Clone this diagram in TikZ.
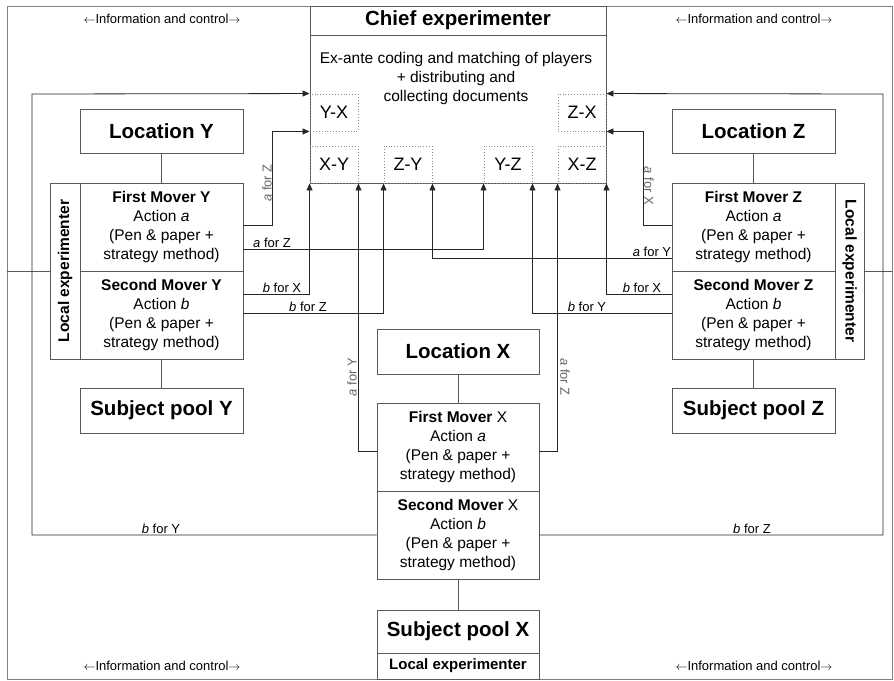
\documentclass[tikz,border=0pt]{standalone}
\usepackage{fontspec}
\setmainfont{Liberation Sans}
\usetikzlibrary{arrows.meta}

\newcommand{\infoline}{\(\leftarrow\)Information and control\(\rightarrow\)}

\begin{document}
\begin{tikzpicture}[x=1pt,y=-1pt,
	box/.style={draw=black!65, line width=0.9pt, inner sep=0pt, align=center, font=\fontsize{15.5}{19}\selectfont},
	bigbox/.style={box, font=\bfseries\fontsize{20.5}{24}\selectfont},
	codebox/.style={draw=black!45, dotted, line width=0.9pt, inner sep=0pt, minimum width=48pt, minimum height=37pt, font=\fontsize{18}{20}\selectfont},
	link/.style={draw=black!65, line width=0.9pt},
	flow/.style={draw=black!85, line width=0.8pt, -{Triangle[length=7pt,width=6pt]}},
	lab/.style={font=\fontsize{13}{15}\selectfont, inner sep=1pt},
	vlab/.style={lab, text=black!60},
	info/.style={font=\fontsize{13}{15}\selectfont}]
	\useasboundingbox (0,0) rectangle (894,680);
	\node[draw=black!50, line width=0.9pt, minimum width=885pt, minimum height=673pt] (frame) at (449.5,342.5) {};
	% chief experimenter
	\node[bigbox, minimum width=296pt, minimum height=29pt] (chief) at (458,20.5) {Chief experimenter};
	\node[box, minimum width=296pt, minimum height=148pt] (chiefbody) at (458,109) {};
	\node[align=center, font=\fontsize{15.5}{19}\selectfont] (coding) at (456,78) {Ex-ante coding and matching of players\\+ distributing and\\collecting documents};
	\node[codebox] (YX) at (334,112.5) {Y-X};
	\node[codebox] (ZX) at (582,112.5) {Z-X};
	\node[codebox] (XY) at (334,164.5) {X-Y};
	\node[codebox] (ZY) at (408,164.5) {Z-Y};
	\node[codebox] (YZ) at (508,164.5) {Y-Z};
	\node[codebox] (XZ) at (582,164.5) {X-Z};
	% location Y
	\node[bigbox, minimum width=163pt, minimum height=44pt] (locY) at (161.5,131) {Location Y};
	\node[box, minimum width=163pt, minimum height=88pt] (fmY) at (161.5,227) {\textbf{First Mover Y}\\Action \textit{a}\\(Pen \& paper +\\strategy method)};
	\node[box, minimum width=163pt, minimum height=88pt] (smY) at (161.5,315) {\textbf{Second Mover Y}\\Action \textit{b}\\(Pen \& paper +\\strategy method)};
	\node[bigbox, minimum width=163pt, minimum height=45pt] (poolY) at (161.5,410.5) {Subject pool Y};
	\node[box, font=\bfseries\fontsize{15.5}{19}\selectfont, rotate=90, minimum width=176pt, minimum height=30pt] (localY) at (65,271) {Local experimenter};
	% location Z
	\node[bigbox, minimum width=163pt, minimum height=44pt] (locZ) at (753.5,131) {Location Z};
	\node[box, minimum width=163pt, minimum height=88pt] (fmZ) at (753.5,227) {\textbf{First Mover Z}\\Action \textit{a}\\(Pen \& paper +\\strategy method)};
	\node[box, minimum width=163pt, minimum height=88pt] (smZ) at (753.5,315) {\textbf{Second Mover Z}\\Action \textit{b}\\(Pen \& paper +\\strategy method)};
	\node[bigbox, minimum width=163pt, minimum height=45pt] (poolZ) at (753.5,410.5) {Subject pool Z};
	\node[box, font=\bfseries\fontsize{15.5}{19}\selectfont, rotate=-90, minimum width=176pt, minimum height=29pt] (localZ) at (849.5,271) {Local experimenter};
	% location X
	\node[bigbox, minimum width=162pt, minimum height=45pt] (locX) at (458,351.5) {Location X};
	\node[box, minimum width=162pt, minimum height=88pt] (fmX) at (458,447) {\textbf{First Mover} X\\Action \textit{a}\\(Pen \& paper +\\strategy method)};
	\node[box, minimum width=162pt, minimum height=88pt] (smX) at (458,535) {\textbf{Second Mover} X\\Action \textit{b}\\(Pen \& paper +\\strategy method)};
	\node[bigbox, minimum width=162pt, minimum height=43pt] (poolX) at (458,631.5) {Subject pool X};
	\node[box, font=\bfseries\fontsize{15}{18}\selectfont, minimum width=162pt, minimum height=26pt] (localX) at (458,666) {Local experimenter};
	\draw[link] (locY) -- (fmY);
	\draw[link] (smY) -- (poolY);
	\draw[link] (locZ) -- (fmZ);
	\draw[link] (smZ) -- (poolZ);
	\draw[link] (locX) -- (fmX);
	\draw[link] (smX) -- (poolX);
	\draw[link] (frame.west |- localY.north) -- (localY.north);
	\draw[link] (frame.east |- localZ.north) -- (localZ.north);
	% information and control
	\node[info] (infoTL) at (162,19) {\infoline};
	\node[info] (infoTR) at (754,19) {\infoline};
	\node[info] (infoBL) at (162,666) {\infoline};
	\node[info] (infoBR) at (754,666) {\infoline};
	% decisions from Y
	\draw[flow] ([yshift=2pt]fmY.east) -| ([xshift=-37pt]YX.south west) -- (YX.south west);
	\node[vlab, rotate=90, anchor=south] (aYZ1) at (273,183) {\textit{a} for Z};
	\draw[flow] ([yshift=-22pt]fmY.east) -| (YZ.south west);
	\node[lab, anchor=south] (aYZ2) at (272,249) {\textit{a} for Z};
	\draw[flow] ([yshift=21pt]smY.east) -| (XY.south west);
	\node[lab, anchor=south] (bYX) at (282,294) {\textit{b} for X};
	\draw[flow] ([yshift=2pt]smY.east) -| (ZY.south west);
	\node[lab, anchor=south] (bYZ) at (308,313) {\textit{b} for Z};
	% decisions from Z
	\draw[flow] ([yshift=2pt]fmZ.west) -| ([xshift=37pt]ZX.south east) -- (ZX.south east);
	\node[vlab, rotate=-90, anchor=south] (aZX) at (643,186) {\textit{a} for X};
	\draw[flow] ([yshift=-31pt]fmZ.west) -| (ZY.south east);
	\node[lab, anchor=south] (aZY) at (652,258) {\textit{a} for Y};
	\draw[flow] ([yshift=21pt]smZ.west) -| (XZ.south east);
	\node[lab, anchor=south] (bZX) at (642,294) {\textit{b} for X};
	\draw[flow] ([yshift=2pt]smZ.west) -| (YZ.south east);
	\node[lab, anchor=south] (bZY) at (587,313) {\textit{b} for Y};
	% decisions from X
	\draw[flow] ([yshift=-4pt]fmX.west) -| (XY.south east);
	\node[vlab, rotate=90, anchor=south] (aXY) at (358,377) {\textit{a} for Y};
	\draw[flow] ([yshift=-4pt]fmX.east) -| (XZ.south west);
	\node[vlab, rotate=-90, anchor=south] (aXZ) at (559,377) {\textit{a} for Z};
	\coordinate (bendL) at (32,94);
	\coordinate (bendR) at (883,94);
	\draw[flow] (smX.west) -| (bendL) -- (YX.north west);
	\node[lab, anchor=south] (bXY) at (161,535) {\textit{b} for Y};
	\draw[flow] (smX.east) -| (bendR) -- (ZX.north east);
	\node[lab, anchor=south] (bXZ) at (752,535) {\textit{b} for Z};
\end{tikzpicture}
\end{document}
